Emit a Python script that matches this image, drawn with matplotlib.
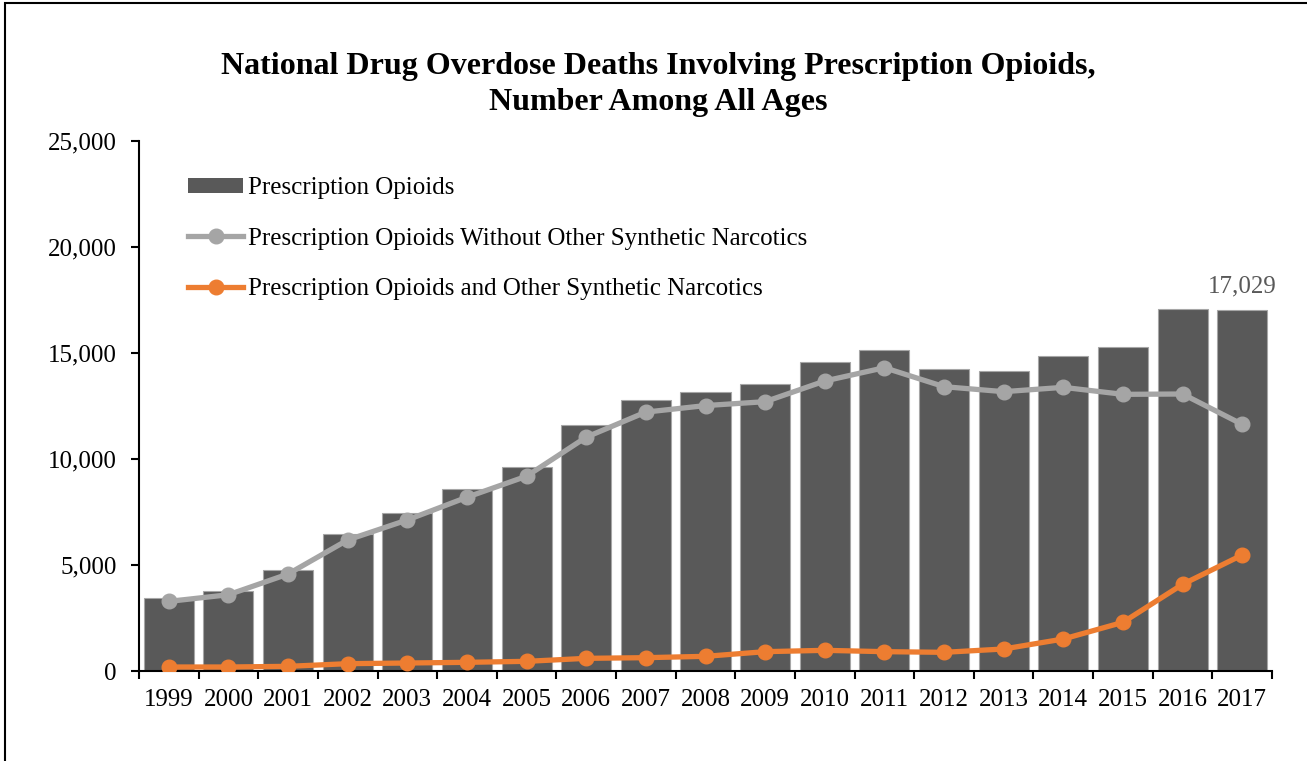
import matplotlib
matplotlib.use("Agg")
import matplotlib.pyplot as plt
from matplotlib.patches import Rectangle
from matplotlib.lines import Line2D
import numpy as np

plt.rcParams['font.family'] = ['Liberation Serif', 'DejaVu Serif']

years = ["1999", "2000", "2001", "2002", "2003", "2004", "2005", "2006", "2007", "2008",
         "2009", "2010", "2011", "2012", "2013", "2014", "2015", "2016", "2017"]
rx_opioids = [3442, 3785, 4770, 6483, 7456, 8577, 9612, 11589, 12796, 13149,
              13523, 14583, 15140, 14240, 14145, 14838, 15281, 17087, 17029]
rx_without_synth = [3283, 3598, 4575, 6181, 7126, 8197, 9189, 11031, 12213, 12520,
                    12704, 13679, 14307, 13412, 13176, 13380, 13050, 13066, 11635]
rx_with_synth = [189, 189, 220, 346, 377, 409, 456, 597, 629, 692,
                 912, 975, 912, 881, 1038, 1509, 2296, 4088, 5472]
labels = ["Prescription Opioids",
          "Prescription Opioids Without Other Synthetic Narcotics",
          "Prescription Opioids and Other Synthetic Narcotics"]
title = "National Drug Overdose Deaths Involving Prescription Opioids,\nNumber Among All Ages"

W, H = 1307, 761
fig = plt.figure(figsize=(W / 100, H / 100), dpi=100)
ax = fig.add_axes([139 / W, 1 - 671 / H, (1272 - 139) / W, (671 - 141) / H])

x = np.arange(len(years))
bar_c = "#595959"
gray_c = "#A5A5A5"
orange_c = "#ED7D31"

ax.bar(x, rx_opioids, width=0.84, color=bar_c, edgecolor="#a6a6a6", linewidth=0.8, zorder=2)
ax.plot(x, rx_without_synth, color=gray_c, lw=3.8, marker="o", ms=10.5, zorder=3)
ax.plot(x, rx_with_synth, color=orange_c, lw=3.8, marker="o", ms=10.5, zorder=4)

ax.text(x[-1], rx_opioids[-1] + 600, f"{rx_opioids[-1]:,}", ha="center", va="bottom",
        fontsize=18, color="#595959")

ax.set_xlim(-0.5, len(years) - 0.5)
ax.set_ylim(0, 25000)
ax.set_yticks(np.arange(0, 25001, 5000))
ax.set_yticklabels([f"{v:,}" for v in range(0, 25001, 5000)])
ax.set_xticks(x)
ax.set_xticklabels(years)
ax.set_xticks(np.arange(-0.5, len(years), 1.0), minor=True)
ax.tick_params(axis="x", which="major", length=0, pad=13, labelsize=18)
ax.tick_params(axis="x", which="minor", length=6, width=1.5, direction="out")
ax.tick_params(axis="y", length=6, width=1.5, pad=10, labelsize=18)
for s in ["top", "right"]:
    ax.spines[s].set_visible(False)
for s in ["left", "bottom"]:
    ax.spines[s].set_linewidth(1.5)

handles = [
    Rectangle((0, 0), 1, 1, facecolor=bar_c, edgecolor="none"),
    Line2D([], [], color=gray_c, lw=3.8, marker="o", ms=10.5),
    Line2D([], [], color=orange_c, lw=3.8, marker="o", ms=10.5),
]
leg = ax.legend(handles, labels, loc="upper left", bbox_to_anchor=(188 / W, 1 - 177 / H),
                bbox_transform=fig.transFigure, frameon=False, fontsize=18,
                handlelength=2.2, handleheight=0.55, handletextpad=0.2, labelspacing=1.14,
                borderpad=0, borderaxespad=0)

fig.text(658 / W, 1 - 84.5 / H, title, ha="center", va="center", fontsize=23,
         fontweight="bold", linespacing=1.29)

fig.patches.append(Rectangle((5 / W, -0.1), 1.2, 1.1 - 3 / H, transform=fig.transFigure,
                             fill=False, edgecolor="black", linewidth=1.5, zorder=10))

fig.savefig("out.png", dpi=100)
